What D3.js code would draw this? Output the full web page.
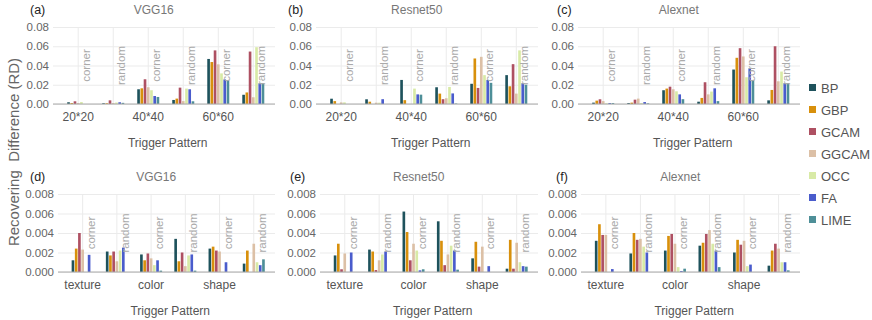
<!DOCTYPE html>
<html>
<head>
<meta charset="utf-8">
<script src="https://cdn.jsdelivr.net/npm/d3@7"></script>
<style>
  body { margin: 0; background: #fff; }
  text { font-family: "Liberation Sans", Arial, sans-serif; }
</style>
</head>
<body>
<div id="chart"></div>
<script>
const series = ["BP", "GBP", "GCAM", "GGCAM", "OCC", "FA", "LIME"];
const colors = ["#1e525c", "#d8900c", "#ae5062", "#dcc0a6", "#d8eaa6", "#4a5ccc", "#4e8f98"];
const positions = ["corner", "random"];
const sizeGroups = ["20*20", "40*40", "60*60"];
const shapeGroups = ["texture", "color", "shape"];
const sizeTicks = [0, 0.02, 0.04, 0.06, 0.08];
const shapeTicks = [0, 0.002, 0.004, 0.006, 0.008];

// 6 clusters per panel: group x position, 7 values each (series order)
const vggSize = [
  [0.0018, 0.001, 0.0028, 0.001, 0.002, 0, 0],
  [0.0008, 0.0008, 0.0038, 0.001, 0.0015, 0.0018, 0.0012],
  [0.0153, 0.0163, 0.0257, 0.0174, 0.0143, 0.0083, 0.0073],
  [0.0042, 0.0056, 0.017, 0.003, 0.016, 0.0153, 0.0028],
  [0.0468, 0.0436, 0.0557, 0.0412, 0.0318, 0.0255, 0.0245],
  [0.0096, 0.012, 0.0545, 0.007, 0.059, 0.0215, 0.0215]
];
const resnetSize = [
  [0.0055, 0.003, 0, 0.0017, 0.0017, 0, 0],
  [0.0049, 0.0024, 0, 0.0014, 0.0014, 0.005, 0],
  [0.025, 0.004, 0, 0, 0.016, 0.01, 0.0097],
  [0.0174, 0.0108, 0.005, 0.006, 0.0177, 0.011, 0.0005],
  [0.021, 0.0473, 0.0167, 0.049, 0.03, 0.025, 0.022],
  [0.03, 0.0184, 0.0414, 0.0108, 0.0557, 0.0216, 0.02]
];
const alexSize = [
  [0.0014, 0.0035, 0.0049, 0.003, 0.0007, 0.001, 0.001],
  [0.001, 0.0014, 0.0045, 0.0056, 0.001, 0.002, 0.0007],
  [0.0143, 0.016, 0.018, 0.0153, 0.0132, 0.01, 0.005],
  [0.0024, 0.0063, 0.0226, 0.01, 0.0129, 0.0163, 0.003],
  [0.0358, 0.048, 0.058, 0.0494, 0.0278, 0.037, 0.025],
  [0.0038, 0.0146, 0.06, 0.0236, 0.0337, 0.0216, 0.0216]
];
const vggShape = [
  [0.0012, 0.0024, 0.004, 0.0023, 0, 0.00176, 0],
  [0.0021, 0.0017, 0.0021, 0.0011, 0.0022, 0.0025, 0],
  [0.0018, 0.0012, 0.0019, 0.0014, 0.0007, 0.0012, 0.00014],
  [0.0034, 0.0011, 0.002, 0.0006, 0.0017, 0.0018, 0.00014],
  [0.0024, 0.0026, 0.0022, 0.0021, 0, 0.001, 0],
  [0.00086, 0.0022, 0, 0.0029, 0.001, 0.0007, 0.0013]
];
const resnetShape = [
  [0.0017, 0.0029, 0.00028, 0.0019, 0, 0.002, 0],
  [0.0023, 0.0021, 0.0002, 0.0012, 0.0018, 0.0021, 0],
  [0.0062, 0.0041, 0.0012, 0.0029, 0.0022, 0.00017, 0.00028],
  [0.0052, 0.0032, 0.0007, 0.0018, 0.0027, 0.0022, 0.00024],
  [0.0014, 0.0031, 0.00055, 0.0026, 0, 0.0006, 0],
  [0.00034, 0.0033, 0.00034, 0.003, 0.001, 0.0006, 0.00055]
];
const alexShape = [
  [0.0032, 0.0049, 0.0038, 0.0038, 0, 0.0003, 0],
  [0.0019, 0.004, 0.0033, 0.0034, 0.0026, 0.002, 0],
  [0.0022, 0.0037, 0.0039, 0.0029, 0.0005, 0.0001, 0.00034],
  [0.0027, 0.003, 0.0039, 0.0043, 0.0029, 0.0022, 0.0005],
  [0.002, 0.0033, 0.0028, 0.0032, 0.0006, 0.00076, 0],
  [0.00065, 0.0022, 0.0029, 0.0024, 0.001, 0.001, 0.00017]
];

const width = 872;
const height = 320;

const svg = d3.select("#chart")
    .append("svg")
    .attr("width", width)
    .attr("height", height);

const panels = [
  {tag: "(a)", title: "VGG16", data: vggSize, groups: sizeGroups, ticks: sizeTicks, fmt: ".2f", left: 53, right: 275, top: 27, bottom: 104, tagX: 30},
  {tag: "(b)", title: "Resnet50", data: resnetSize, groups: sizeGroups, ticks: sizeTicks, fmt: ".2f", left: 316, right: 538, top: 27, bottom: 104, tagX: 288},
  {tag: "(c)", title: "Alexnet", data: alexSize, groups: sizeGroups, ticks: sizeTicks, fmt: ".2f", left: 578, right: 800, top: 27, bottom: 104, tagX: 557},
  {tag: "(d)", title: "VGG16", data: vggShape, groups: shapeGroups, ticks: shapeTicks, fmt: ".3f", left: 58, right: 275, top: 194, bottom: 272, tagX: 30},
  {tag: "(e)", title: "Resnet50", data: resnetShape, groups: shapeGroups, ticks: shapeTicks, fmt: ".3f", left: 320, right: 538, top: 194, bottom: 272, tagX: 290},
  {tag: "(f)", title: "Alexnet", data: alexShape, groups: shapeGroups, ticks: shapeTicks, fmt: ".3f", left: 581, right: 800, top: 194, bottom: 272, tagX: 556}
];

const inner = d3.scaleBand()
    .domain(series)
    .range([-11, 11])
    .paddingInner(0.18);

panels.forEach(function(p) {
    const g = svg.append("g");

    const xScale = d3.scaleLinear()
        .domain([-0.72, 5.62])
        .range([p.left, p.right]);
    const yScale = d3.scaleLinear()
        .domain([0, p.ticks[p.ticks.length - 1]])
        .range([p.bottom, p.top]);

    // horizontal grid + labels
    const yAxis = g.append("g")
        .attr("transform", `translate(${p.left},0)`)
        .call(d3.axisLeft(yScale)
            .tickValues(p.ticks)
            .tickFormat(d3.format(p.fmt))
            .tickSize(-(p.right - p.left))
            .tickPadding(4));
    yAxis.select(".domain").remove();
    yAxis.selectAll("line").attr("stroke", "#ebebeb");
    yAxis.selectAll("text")
        .attr("fill", "#666")
        .style("font-size", "11.5px");

    // vertical grid
    g.selectAll(".vgrid")
        .data(d3.range(6))
        .enter()
        .append("line")
            .attr("x1", function(d) { return xScale(d); })
            .attr("x2", function(d) { return xScale(d); })
            .attr("y1", p.top)
            .attr("y2", p.bottom)
            .attr("stroke", "#ebebeb");

    // bars
    p.data.forEach(function(vals, ci) {
        g.selectAll(".bar" + ci)
            .data(vals)
            .enter()
            .append("rect")
                .attr("x", function(d, i) { return xScale(ci) + inner(series[i]); })
                .attr("width", inner.bandwidth())
                .attr("y", function(d) { return yScale(d); })
                .attr("height", function(d) { return yScale(0) - yScale(d); })
                .attr("fill", function(d, i) { return colors[i]; });
    });

    // zero line
    g.append("line")
        .attr("x1", p.left)
        .attr("x2", p.right)
        .attr("y1", yScale(0))
        .attr("y2", yScale(0))
        .attr("stroke", "#aaa")
        .attr("stroke-width", 1.2);

    // corner / random labels
    const midY = yScale(p.ticks[2]);
    g.selectAll(".pos")
        .data(d3.range(6))
        .enter()
        .append("text")
            .attr("transform", function(d) { return `translate(${xScale(d) + 12},${midY}) rotate(-90)`; })
            .attr("text-anchor", "middle")
            .attr("fill", "#aaa")
            .style("font-size", "11.5px")
            .text(function(d) { return positions[d % 2]; });

    // group labels
    g.selectAll(".grp")
        .data(p.groups)
        .enter()
        .append("text")
            .attr("x", function(d, i) { return xScale(i * 2); })
            .attr("y", p.bottom + 17)
            .attr("text-anchor", "middle")
            .attr("fill", "#555")
            .style("font-size", "12px")
            .text(function(d) { return d; });

    const mid = (xScale(0) + xScale(5)) / 2;

    g.append("text")
        .attr("x", mid + 2)
        .attr("y", p.bottom + 43)
        .attr("text-anchor", "middle")
        .attr("fill", "#555")
        .style("font-size", "12px")
        .text("Trigger Pattern");

    g.append("text")
        .attr("x", mid - 12)
        .attr("y", p.top - 13)
        .attr("text-anchor", "middle")
        .attr("fill", "#777")
        .style("font-size", "12px")
        .text(p.title);

    g.append("text")
        .attr("x", p.tagX)
        .attr("y", p.top - 13)
        .attr("fill", "#222")
        .style("font-size", "12.5px")
        .text(p.tag);
});

// y axis title
svg.append("text")
    .attr("transform", "translate(19,152) rotate(-90)")
    .attr("text-anchor", "middle")
    .attr("fill", "#666")
    .style("font-size", "15px")
    .style("white-space", "pre")
    .attr("xml:space", "preserve")
    .text("Recovering  Difference (RD)");

// legend
const legend = svg.selectAll(".legend")
    .data(series)
    .enter()
    .append("g")
        .attr("transform", function(d, i) { return `translate(809,${88 + i * 22})`; });
legend.append("rect")
    .attr("x", 0)
    .attr("y", -4)
    .attr("width", 7)
    .attr("height", 7)
    .attr("fill", function(d, i) { return colors[i]; });
legend.append("text")
    .attr("x", 12)
    .attr("y", 5)
    .attr("fill", "#555")
    .style("font-size", "13px")
    .text(function(d) { return d; });
</script>
</body>
</html>
